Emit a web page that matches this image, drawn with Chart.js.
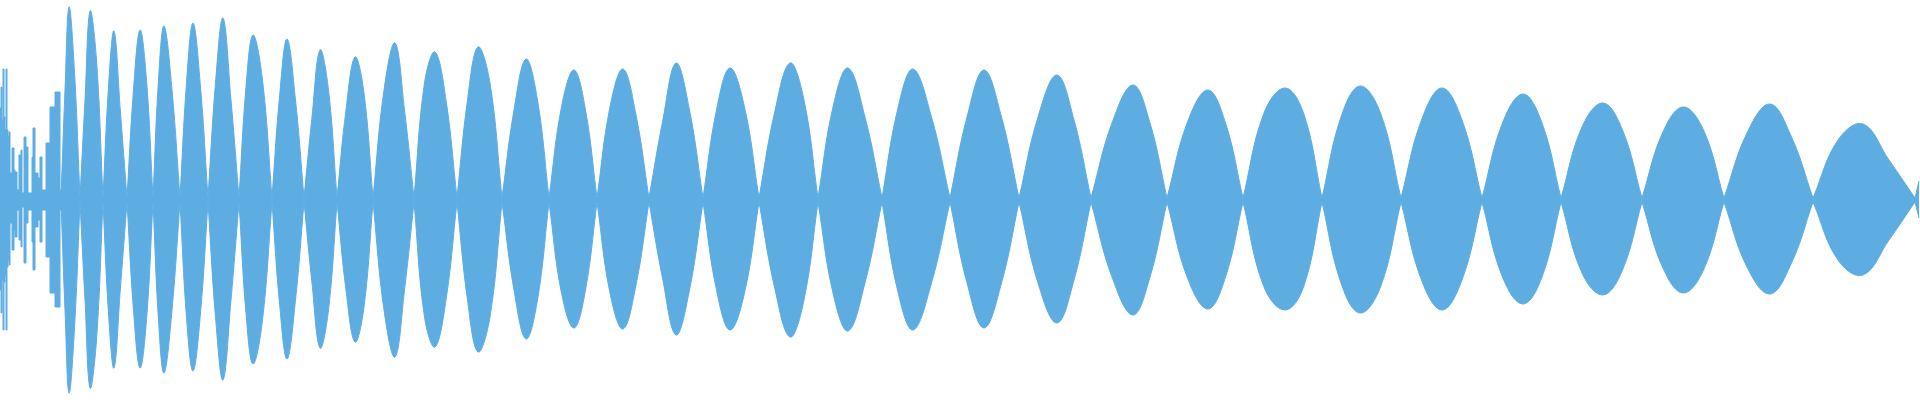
<!DOCTYPE html>
<html>
<head>
<meta charset="utf-8">
<script src="https://cdn.jsdelivr.net/npm/chart.js@4/dist/chart.umd.min.js"></script>
<style>
  html, body { margin: 0; padding: 0; background: #fff; }
  #wave { display: block; }
</style>
</head>
<body>
<canvas id="wave" width="1920" height="400"></canvas>
<script>
// noisy start of the recording (sample column, upper / lower amplitude)
const noiseX     = [0, 1, 2, 3, 4, 5, 6, 7, 8, 9, 10, 12, 14, 15, 17, 19, 21, 22, 24, 26, 28, 32, 33, 35, 38, 40, 42, 46, 50, 55, 60, 62];
const noiseUpper = [92, 113, 80, 131, 83, 70, 131, 70, 63, 68, 27, 52, 30, 28, 10, 45, 50, 7, 63, 53, 7, 43, 72, 27, 22, 43, 10, 57, 93, 108, 10, 2];
const noiseLower = [90, 113, 80, 130, 82, 75, 130, 67, 60, 65, 23, 50, 30, 37, 10, 40, 47, 7, 63, 23, 10, 42, 70, 27, 20, 42, 10, 57, 93, 107, 10, 2];

// beat lobes: zero crossings, then peak position and peak amplitude of each lobe
const nodeX = [61, 80, 103, 127, 153, 180, 208, 239, 272, 304, 337, 373, 414, 457, 502, 549, 597, 649,
               703, 759, 818, 882, 950, 1019, 1091, 1167, 1243, 1322, 1401, 1482, 1561, 1642, 1724, 1813, 1915];
const peakX = [69, 90, 114, 140, 164, 193, 223, 253, 287, 320, 355, 395, 435, 478, 526, 574, 623,
               676, 730, 790, 848, 913, 984, 1057, 1133, 1208, 1285, 1360, 1442, 1523, 1603, 1683, 1770, 1863];
const peakUpper = [193, 189, 169, 170, 174, 177, 182, 165, 161, 150, 143, 157, 148, 153, 141, 130, 131,
                   137, 132, 137, 132, 131, 130, 125, 115, 110, 112, 114, 112, 106, 97, 93, 96, 76];
const peakLower = [193, 188, 168, 168, 173, 171, 180, 164, 159, 148, 142, 157, 147, 152, 139, 128, 129,
                   135, 130, 137, 131, 130, 128, 123, 115, 109, 110, 113, 110, 104, 95, 93, 94, 75];
// envelope read halfway between a zero crossing and the peak (rising / falling side)
const shoulderLeft  = [110, 100, 113, 110, 120, 117, 117, 113, 103, 83, 90, 110, 117, 100, 90, 93, 93,
                       78, 90, 87, 93, 90, 83, 83, 77, 78, 87, 83, 80, 77, 73, 67, 67, 60];
const shoulderRight = [128, 140, 87, 120, 110, 113, 100, 120, 100, 110, 107, 90, 100, 117, 100, 90, 85,
                       90, 93, 100, 83, 83, 83, 80, 77, 77, 87, 87, 80, 77, 70, 70, 63, 40];
const nodeAmp = 2;
// last column of the file
const tailX = 1919;
const tailUpper = 19;
const tailLower = 18;

const waveColor = '#5DADE2';

// each zero crossing is given twice so the curve keeps a sharp cusp there
function lobePoints(peaks, sign) {
  const pts = [{ x: nodeX[0], y: sign * nodeAmp }];
  for (let i = 0; i < peakX.length; i++) {
    pts.push({ x: (nodeX[i] + peakX[i]) / 2, y: sign * shoulderLeft[i] });
    pts.push({ x: peakX[i], y: sign * peaks[i] });
    pts.push({ x: (peakX[i] + nodeX[i + 1]) / 2, y: sign * shoulderRight[i] });
    pts.push({ x: nodeX[i + 1], y: sign * nodeAmp });
    pts.push({ x: nodeX[i + 1], y: sign * nodeAmp });
  }
  return pts;
}

const upperLobes = lobePoints(peakUpper, 1);
const lowerLobes = lobePoints(peakLower, -1);
upperLobes.push({ x: tailX, y: tailUpper });
lowerLobes.push({ x: tailX, y: -tailLower });

const noiseTop = noiseX.map((x, i) => ({ x: x, y: noiseUpper[i] }));
const noiseBottom = noiseX.map((x, i) => ({ x: x, y: -noiseLower[i] }));

const common = {
  borderColor: waveColor,
  backgroundColor: waveColor,
  borderWidth: 1,
  pointRadius: 0,
  fill: 'origin'
};

new Chart(document.getElementById('wave'), {
  type: 'line',
  data: {
    datasets: [
      Object.assign({ data: noiseTop, stepped: true }, common),
      Object.assign({ data: noiseBottom, stepped: true }, common),
      Object.assign({ data: upperLobes, tension: 0.4 }, common),
      Object.assign({ data: lowerLobes, tension: 0.4 }, common)
    ]
  },
  options: {
    responsive: false,
    animation: false,
    devicePixelRatio: 1,
    layout: { padding: 0 },
    plugins: {
      legend: { display: false },
      tooltip: { enabled: false }
    },
    scales: {
      x: { type: 'linear', min: 0, max: 1920, display: false },
      y: { min: -200, max: 200, display: false }
    }
  }
});
</script>
</body>
</html>
